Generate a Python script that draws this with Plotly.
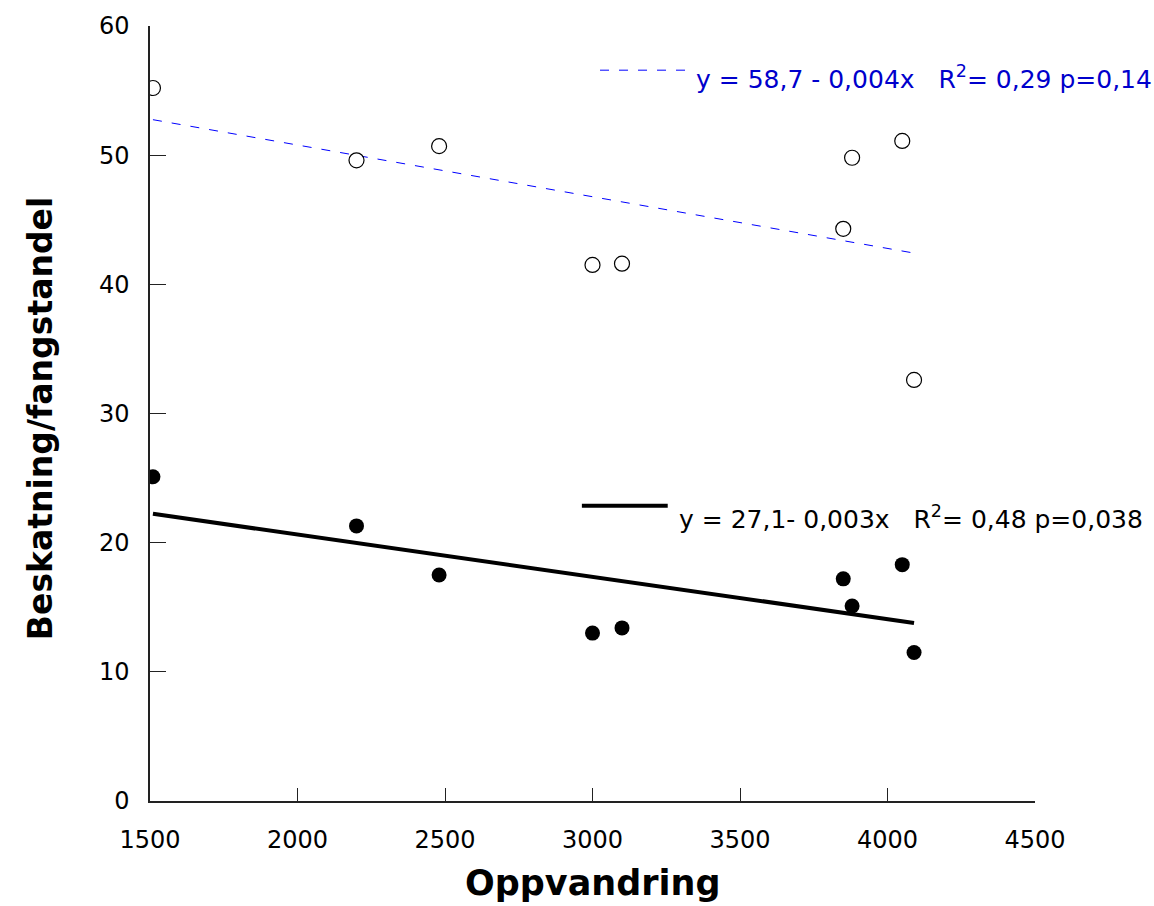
import numpy as np
import plotly.graph_objects as go

# Data
oppvandring = [1510, 2200, 2480, 3000, 3100, 3850, 3880, 4050, 4090]
beskatning_open = [55.2, 49.6, 50.7, 41.5, 41.6, 44.3, 49.8, 51.1, 32.6]
beskatning_filled = [25.1, 21.3, 17.5, 13.0, 13.4, 17.2, 15.1, 18.3, 11.5]

x_ticks = [1500, 2000, 2500, 3000, 3500, 4000, 4500]
y_ticks = [0, 10, 20, 30, 40, 50, 60]

x_title = "Oppvandring"
y_title = "Beskatning/fangstandel"
eq_open = "y = 58,7 - 0,004x\u00a0\u00a0\u00a0R<sup>2</sup>= 0,29 p=0,14"
eq_filled = "y = 27,1- 0,003x\u00a0\u00a0\u00a0R<sup>2</sup>= 0,48 p=0,038"

FONT = "DejaVu Sans"

x = np.array(oppvandring, dtype=float)
xfit = np.array([x.min(), x.max()])
b_open = np.polyfit(x, beskatning_open, 1)
b_fill = np.polyfit(x, beskatning_filled, 1)

fig = go.Figure()
fig.add_trace(go.Scatter(x=xfit, y=np.polyval(b_open, xfit), mode="lines",
                         line=dict(color="#0000ff", width=1, dash="9px,10px"),
                         showlegend=False))
fig.add_trace(go.Scatter(x=xfit, y=np.polyval(b_fill, xfit), mode="lines",
                         line=dict(color="black", width=4),
                         showlegend=False))
fig.add_trace(go.Scatter(x=oppvandring, y=beskatning_open, mode="markers",
                         marker=dict(size=15, color="white",
                                     line=dict(color="black", width=1.2)),
                         showlegend=False))
fig.add_trace(go.Scatter(x=oppvandring, y=beskatning_filled, mode="markers",
                         marker=dict(size=15, color="black",
                                     line=dict(color="black", width=0)),
                         showlegend=False))

# legend-like samples
fig.add_shape(type="line", xref="paper", yref="paper", x0=0.5085, x1=0.6102,
              y0=0.943, y1=0.943, line=dict(color="#0000ff", width=1, dash="9px,10px"))
fig.add_shape(type="line", xref="paper", yref="paper", x0=0.488, x1=0.585,
              y0=0.381, y1=0.381, line=dict(color="black", width=4))
fig.add_annotation(xref="paper", yref="paper", x=0.6147, y=0.933, text=eq_open,
                   showarrow=False, xanchor="left", yanchor="middle",
                   font=dict(family=FONT, size=25, color="#0000cc"))
fig.add_annotation(xref="paper", yref="paper", x=0.595, y=0.366, text=eq_filled,
                   showarrow=False, xanchor="left", yanchor="middle",
                   font=dict(family=FONT, size=25, color="black"))

# axis titles
fig.add_annotation(xref="paper", yref="paper", x=0.5, y=-0.1335,
                   text="<b>" + x_title + "</b>", showarrow=False,
                   xanchor="center", yanchor="bottom", borderpad=0,
                   font=dict(family=FONT, size=35, color="black"))
fig.add_annotation(xref="paper", yref="paper", x=-0.1243, y=0.494,
                   text="<b>" + y_title + "</b>", showarrow=False, textangle=-90,
                   xanchor="center", yanchor="middle",
                   font=dict(family=FONT, size=33, color="black"))

fig.update_layout(
    width=1154, height=906,
    margin=dict(l=150, r=119, t=26, b=105),
    paper_bgcolor="white", plot_bgcolor="white",
    font=dict(family=FONT, color="black"),
    xaxis=dict(range=[1500, 4500], tickvals=x_ticks, ticktext=[str(v) for v in x_ticks],
               ticks="inside", ticklen=13, tickwidth=1.2, tickcolor="#222",
               showline=True, linecolor="#222", linewidth=1.5,
               showgrid=False, zeroline=False, automargin=False,
               tickfont=dict(family=FONT, size=24),
               ticklabelstandoff=16),
    yaxis=dict(range=[0, 60], tickvals=y_ticks, ticktext=[str(v) for v in y_ticks],
               ticks="inside", ticklen=16, tickwidth=1.2, tickcolor="#222",
               showline=True, linecolor="#222", linewidth=1.5,
               showgrid=False, zeroline=False, automargin=False,
               tickfont=dict(family=FONT, size=24),
               ticklabelstandoff=14),
)

fig.write_html("out.html")
